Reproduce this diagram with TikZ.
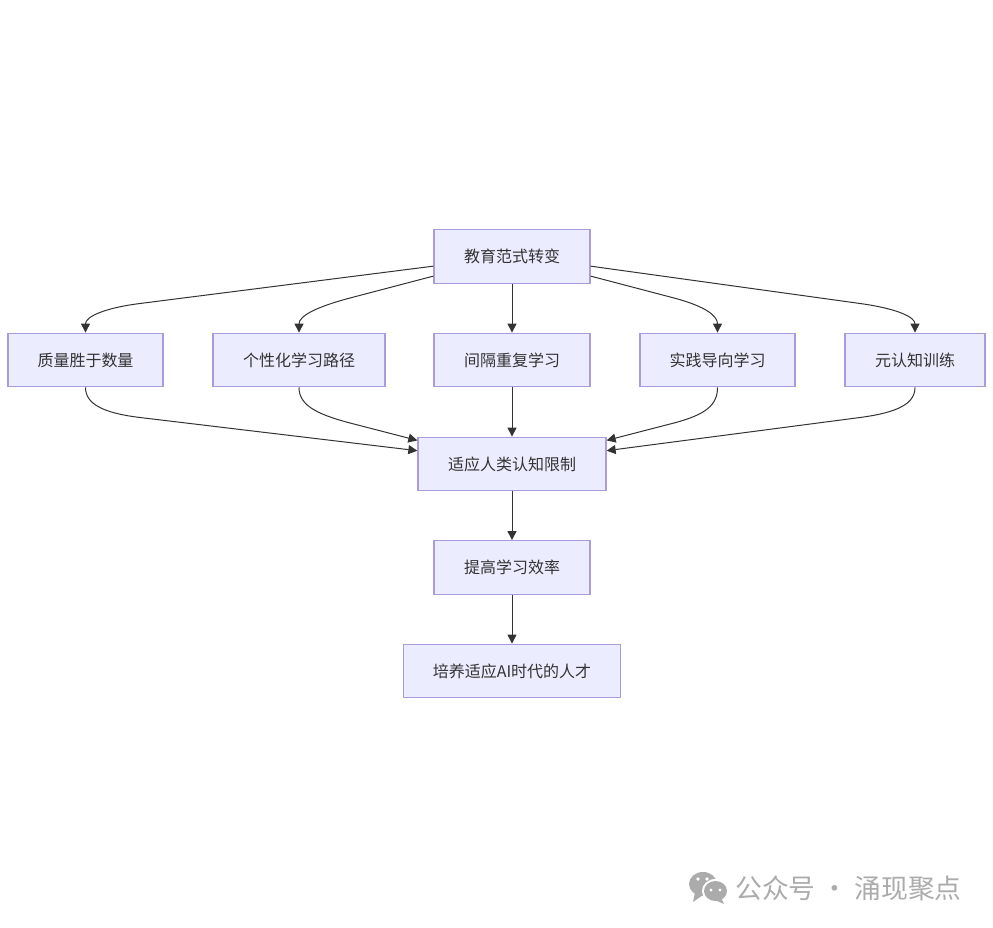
\documentclass[tikz,border=0pt]{standalone}
\usepackage{fontspec}
\setmainfont{Noto Sans CJK SC}
\usetikzlibrary{arrows.meta}
\definecolor{boxfill}{HTML}{ECECFF}
\definecolor{boxline}{HTML}{A99BDC}
\definecolor{inkdark}{HTML}{333333}
\definecolor{markgray}{HTML}{ABABAB}

\begin{document}
\begin{tikzpicture}[
        x=1pt,
        y=-1pt,
        box/.style={
            draw=boxline,
            fill=boxfill,
            line width=1.3pt,
            text=inkdark,
            font=\fontsize{16pt}{18pt}\selectfont,
            inner sep=0pt,
            minimum height=53.5pt,
        },
        link-flow/.style={
            draw=inkdark,
            line width=1pt,
            -{Triangle[length=9pt,width=9pt]},
        },
        mark-text/.style={
            text=markgray,
            font=\fontsize{26.8pt}{30pt}\selectfont,
            inner sep=0pt,
        },
    ]
    \useasboundingbox (0, 0) rectangle (993, 928);

    % Top and bottom boxes.
    \node[box, minimum width=156pt] (shift) at (512, 256.5) {教育范式转变};
    \node[box, minimum width=188pt] (adapt) at (512, 464) {适应人类认知限制};
    \node[box, minimum width=156pt] (raise) at (512, 567.5) {提高学习效率};
    \node[box, minimum width=217pt] (talent) at (512, 671) {培养适应AI时代的人才};

    % Middle row.
    \foreach \name/\cx/\boxw/\txt in {
        quality/85.5/155/质量胜于数量,
        path/299/172/个性化学习路径,
        spaced/512/156/间隔重复学习,
        practice/717.5/155/实践导向学习,
        meta/915/140/元认知训练}
    \node[box, minimum width=\boxw pt] (\name) at (\cx, 360) {\txt};

    % Links out of the top box.
    \draw[link-flow] (shift.187) -- (140, 303.5) .. controls (103, 308.2) and (85.5, 317) .. (quality.north);
    \draw[link-flow] (shift.194) -- (350, 298) .. controls (316, 307) and (299, 316) .. (path.north);
    \draw[link-flow] (shift) -- (spaced);
    \draw[link-flow] (shift.346) -- (674, 298) .. controls (706, 306.5) and (717.5, 316) .. (practice.north);
    \draw[link-flow] (shift.353) -- (860, 303.5) .. controls (897, 308.6) and (915, 317) .. (meta.north);

    % Links into the knowledge box.
    \draw[link-flow] (quality.south) .. controls (85.5, 404) and (103, 413) .. (140, 417.5) -- (adapt.172);
    \draw[link-flow] (path.south) .. controls (299, 405) and (316, 414) .. (350, 423) -- (adapt.166);
    \draw[link-flow] (spaced) -- (adapt);
    \draw[link-flow] (practice.south) .. controls (717.5, 405) and (706, 414.5) .. (674, 423) -- (adapt.14);
    \draw[link-flow] (meta.south) .. controls (915, 404) and (897, 412.6) .. (860, 417.5) -- (adapt.8);

    % Lower chain.
    \draw[link-flow] (adapt) -- (raise);
    \draw[link-flow] (raise) -- (talent);

    % Watermark.
    \fill[markgray] (703, 884) ellipse (14pt and 12pt);
    \fill[markgray] (695, 892) -- (693, 902) -- (703, 895) -- cycle;
    \fill[white] (715.5, 891) ellipse (13.5pt and 12pt);
    \fill[markgray] (715.5, 891) ellipse (11.5pt and 10pt);
    \fill[markgray] (721, 898) -- (724, 904) -- (715, 900) -- cycle;
    \foreach \dotx/\doty in {698/879, 707/879} \fill[white] (\dotx, \doty) circle (1.8pt);
    \foreach \dotx/\doty in {711/890, 720/890} \fill[white] (\dotx, \doty) circle (1.6pt);
    \node[mark-text, anchor=west] (mark) at (735, 888) {公众号 · 涌现聚点};
\end{tikzpicture}
\end{document}
